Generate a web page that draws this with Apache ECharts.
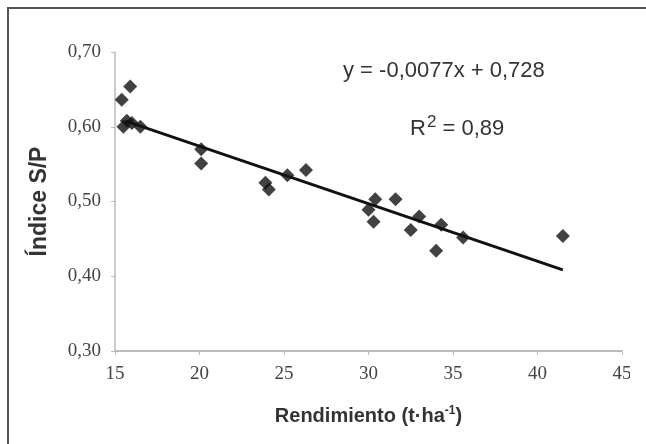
<!doctype html>
<html>
	<head>
		<meta charset="UTF-8">
		<title></title>
		<style>
			html, body { margin: 0; padding: 0; background: #fff; }
			#chart { width: 646px; height: 444px; }
		</style>
	</head>
	<body>
		<div id="chart"></div>
		<script src="https://cdn.jsdelivr.net/npm/echarts@6/dist/echarts.min.js"></script>
		<script type="text/javascript">
			// datos
			var rendimiento = [15.9, 15.4, 15.7, 15.5, 16.0, 16.5, 20.1, 20.1, 23.9, 24.1, 25.2, 26.3, 30.4, 30.0, 30.3, 31.6, 33.0, 32.5, 34.3, 34.0, 35.6, 41.5];
			var indice = [0.654, 0.636, 0.608, 0.600, 0.605, 0.600, 0.570, 0.551, 0.525, 0.516, 0.535, 0.542, 0.503, 0.489, 0.473, 0.503, 0.480, 0.462, 0.469, 0.434, 0.452, 0.454];
			var pendiente = -0.0077;
			var intercepto = 0.728;
			var tendenciaX = [15.6, 41.5];

			var puntos = rendimiento.map(function (x, i) { return [x, indice[i]]; });
			var tendencia = tendenciaX.map(function (x) { return [x, pendiente * x + intercepto]; });

			var myChart = echarts.init(document.getElementById('chart'));
			var option = {
				animation: false,
				grid: {
					left: 115,
					right: 24,
					top: 52,
					bottom: 93
				},
				xAxis: {
					type: 'value',
					min: 15,
					max: 45,
					interval: 5,
					name: 'Rendimiento (t·ha{sup|-1})',
					nameLocation: 'middle',
					nameGap: 54,
					nameTextStyle: {
						fontFamily: 'Liberation Sans',
						fontWeight: 'bold',
						fontSize: 20,
						color: '#333',
						rich: {
							sup: { fontSize: 12, fontWeight: 'bold', color: '#333', padding: [0, 0, 11, 0] }
						}
					},
					axisLine: { lineStyle: { color: '#bbb', width: 2 } },
					axisTick: { show: true, length: 4, lineStyle: { color: '#bbb' } },
					splitLine: { show: false },
					axisLabel: {
						margin: 14,
						fontFamily: 'Liberation Serif',
						fontSize: 19,
						color: '#444'
					}
				},
				yAxis: {
					type: 'value',
					min: 0.3,
					max: 0.7,
					interval: 0.1,
					name: 'Índice S/P',
					nameLocation: 'middle',
					nameGap: 64,
					nameTextStyle: {
						fontFamily: 'Liberation Sans',
						fontWeight: 'bold',
						fontSize: 23,
						color: '#333'
					},
					axisLine: { show: true, lineStyle: { color: '#bbb', width: 1.5 } },
					axisTick: { show: true, length: 4, lineStyle: { color: '#bbb' } },
					splitLine: { show: false },
					axisLabel: {
						margin: 14,
						fontFamily: 'Liberation Serif',
						fontSize: 19,
						color: '#444',
						formatter: function (v) { return v.toFixed(2).replace('.', ','); }
					}
				},
				graphic: [
					{
						type: 'rect',
						shape: { x: 8, y: 8, width: 660, height: 460 },
						style: { fill: 'none', stroke: '#555', lineWidth: 2 },
						silent: true
					},
					{
						// el original esta recortado a la derecha
						type: 'rect',
						shape: { x: 630, y: 362, width: 20, height: 32 },
						style: { fill: '#fff' },
						silent: true,
						z: 100
					},
					{
						type: 'text',
						x: 343,
						y: 60,
						style: {
							text: 'y = -0,0077x + 0,728',
							fontFamily: 'Liberation Sans',
							fontSize: 22,
							fill: '#333'
						}
					},
					{
						type: 'text',
						x: 410,
						y: 114,
						style: {
							text: 'R{sup|2} = 0,89',
							fontFamily: 'Liberation Sans',
							fontSize: 22,
							fill: '#333',
							rich: {
								sup: { fontSize: 17, fill: '#333', fontFamily: 'Liberation Sans', padding: [0, 0, 12, 1] }
							}
						}
					}
				],
				series: [
					{
						type: 'scatter',
						symbol: 'diamond',
						symbolSize: 14,
						itemStyle: { color: '#111' },
						data: puntos
					},
					{
						type: 'line',
						showSymbol: false,
						symbol: 'none',
						lineStyle: { color: '#111', width: 3 },
						data: tendencia
					}
				]
			};
			myChart.setOption(option);
		</script>
	</body>
</html>
